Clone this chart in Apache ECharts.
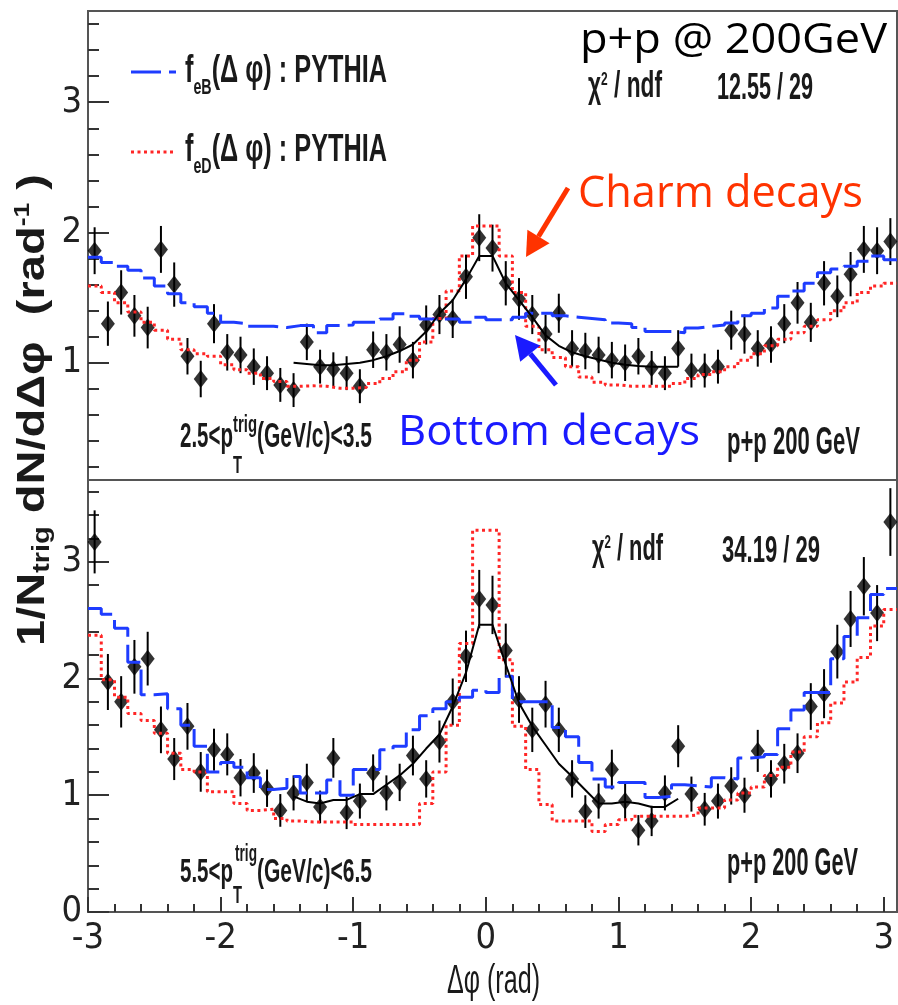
<!DOCTYPE html>
<html>
<head>
<meta charset="utf-8">
<script src="https://cdn.jsdelivr.net/npm/echarts@6.0.0/dist/echarts.min.js"></script>
<style>
html,body{margin:0;padding:0;background:#fff;}
#chart{width:898px;height:1005px;}
</style>
</head>
<body>
<div id="chart"></div>
<script>
// ---------------- data ----------------
const dphi = [-2.95,-2.85,-2.75,-2.65,-2.55,-2.45,-2.35,-2.25,-2.15,-2.05,
  -1.95,-1.85,-1.75,-1.65,-1.55,-1.45,-1.35,-1.25,-1.15,-1.05,
  -0.95,-0.85,-0.75,-0.65,-0.55,-0.45,-0.35,-0.25,-0.15,-0.05,
  0.05,0.15,0.25,0.35,0.45,0.55,0.65,0.75,0.85,0.95,
  1.05,1.15,1.25,1.35,1.45,1.55,1.65,1.75,1.85,1.95,
  2.05,2.15,2.25,2.35,2.45,2.55,2.65,2.75,2.85,2.95,3.05];

const xTickLabels = [-3,-2,-1,0,1,2,3];
const yTickLabelsLow = [1,2,3];
const yTickLabelsHigh = [0,1,2,3];

// panel 1: 2.5 < pT(trig) < 3.5 GeV/c
const dataLow = [1.86,1.30,1.54,1.36,1.27,1.87,1.60,1.05,0.875,1.30,
  1.08,1.06,0.97,0.92,0.83,0.79,1.16,0.97,0.95,0.92,
  0.82,1.10,1.08,1.14,1.02,1.29,1.37,1.34,1.66,1.96,
  1.88,1.61,1.49,1.37,1.22,1.38,1.11,1.09,1.06,1.02,
  1.00,1.05,0.96,0.92,1.11,0.94,0.94,0.97,1.25,1.22,
  1.11,1.14,1.30,1.46,1.31,1.61,1.51,1.68,1.87,1.86,1.93];
const errLow = [0.18,0.17,0.17,0.16,0.16,0.18,0.17,0.14,0.14,0.15,
  0.14,0.14,0.14,0.13,0.13,0.13,0.14,0.13,0.13,0.13,
  0.13,0.14,0.14,0.14,0.14,0.15,0.15,0.15,0.17,0.18,
  0.18,0.17,0.16,0.15,0.15,0.15,0.14,0.14,0.14,0.14,
  0.14,0.14,0.13,0.13,0.14,0.13,0.13,0.13,0.15,0.15,
  0.14,0.14,0.15,0.16,0.15,0.17,0.16,0.17,0.18,0.18,0.18];
const pythiaBLow = [1.81,1.77,1.74,1.71,1.65,1.59,1.53,1.46,1.43,1.38,
  1.31,1.30,1.28,1.28,1.27,1.285,1.285,1.23,1.285,1.29,
  1.31,1.31,1.336,1.377,1.356,1.336,1.336,1.336,1.31,1.35,
  1.33,1.33,1.35,1.38,1.38,1.36,1.35,1.34,1.33,1.305,
  1.30,1.27,1.24,1.24,1.23,1.267,1.28,1.29,1.306,1.36,
  1.38,1.42,1.51,1.55,1.61,1.69,1.72,1.74,1.78,1.82,1.79];
const pythiaDLow = [1.59,1.54,1.46,1.39,1.31,1.25,1.18,1.10,1.07,1.05,
  0.985,0.946,0.92,0.88,0.856,0.82,0.823,0.82,0.805,0.805,
  0.81,0.84,0.88,0.93,1.02,1.16,1.34,1.55,1.82,2.05,
  2.05,1.82,1.54,1.28,1.10,1.04,0.97,0.89,0.85,0.83,
  0.82,0.82,0.82,0.82,0.84,0.88,0.91,0.93,0.97,1.02,
  1.07,1.13,1.18,1.23,1.28,1.33,1.40,1.46,1.54,1.59,1.61];
const fitLow = [1.00,0.99,0.98,0.98,0.99,1.00,1.02,1.05,1.09,1.14,
  1.24,1.38,1.48,1.64,1.82,1.82,1.61,1.48,1.35,1.21,
  1.13,1.08,1.05,1.025,1.00,0.985,0.975,0.97,0.97,0.97];

// panel 2: 5.5 < pT(trig) < 6.5 GeV/c
const dataHigh = [3.17,1.97,1.80,2.10,2.17,1.56,1.31,1.59,1.20,1.39,
  1.35,1.15,1.19,1.06,0.87,1.02,1.11,0.90,1.32,0.85,
  0.95,1.19,1.02,1.11,1.34,1.14,1.46,1.80,2.19,2.68,
  2.63,2.24,1.82,1.56,1.78,1.56,1.14,0.86,0.95,1.22,
  0.95,0.70,0.78,1.02,1.42,1.01,0.88,0.95,1.08,1.00,
  1.38,1.14,1.27,1.36,1.76,1.87,2.23,2.51,2.79,2.56,3.34];
const errHigh = [0.27,0.24,0.22,0.23,0.23,0.20,0.18,0.20,0.17,0.18,
  0.18,0.16,0.17,0.16,0.14,0.15,0.16,0.14,0.17,0.14,
  0.15,0.16,0.15,0.16,0.17,0.16,0.18,0.20,0.22,0.25,
  0.25,0.23,0.20,0.19,0.20,0.19,0.16,0.14,0.15,0.17,
  0.15,0.13,0.13,0.15,0.18,0.15,0.14,0.15,0.16,0.15,
  0.18,0.16,0.17,0.17,0.20,0.21,0.23,0.24,0.25,0.24,0.29];
const pythiaBHigh = [2.60,2.55,2.43,2.14,1.86,1.87,1.74,1.60,1.42,1.20,
  1.28,1.24,1.15,1.05,1.06,1.16,1.02,1.02,1.13,1.00,
  1.22,1.22,1.39,1.42,1.56,1.68,1.74,1.80,1.84,1.90,
  1.88,2.02,1.80,1.80,1.80,1.58,1.50,1.28,1.14,1.07,
  1.11,1.11,0.98,0.99,1.09,1.08,1.07,1.15,1.14,1.32,
  1.33,1.35,1.57,1.73,1.88,1.88,2.17,2.36,2.52,2.72,2.77];
const pythiaDHigh = [2.37,1.99,1.84,1.70,1.64,1.53,1.36,1.22,1.20,1.03,
  1.03,0.93,0.87,0.88,0.80,0.78,0.77,0.77,0.77,0.77,
  0.75,0.75,0.75,0.75,0.75,0.93,1.20,1.60,2.30,3.27,
  3.27,2.16,1.59,1.22,0.92,0.78,0.78,0.78,0.69,0.75,
  0.79,0.82,0.82,0.82,0.82,0.83,0.89,0.89,0.96,1.02,
  1.07,1.17,1.24,1.37,1.50,1.62,1.79,1.97,2.18,2.45,2.59];
const fitHigh = [0.99,0.945,0.93,0.96,0.96,1.01,1.01,1.09,1.17,1.27,
  1.40,1.52,1.76,2.05,2.46,2.46,2.12,1.79,1.59,1.43,
  1.27,1.16,1.045,0.93,0.93,0.945,0.93,0.90,0.90,0.97];
const fitDphi = dphi.slice(15, 45);

// ---------------- helpers ----------------
const ROOTF = '"Liberation Sans", Arial, Helvetica, sans-serif';
const NARROW = '"Liberation Sans Narrow", "DejaVu Sans Condensed", "Liberation Sans", sans-serif';
const KEYF = '"Open Sans", "Noto Sans", sans-serif';
const C_B = '#1e3cff', C_D = '#ff2626';
const RW = 'bold';

const halfBin = (dphi[1] - dphi[0]) / 2;
function stepData(vals) {
  const d = dphi.map((c, i) => [+(c - halfBin).toFixed(4), vals[i]]);
  d.push([+(dphi[dphi.length - 1] + halfBin).toFixed(4), vals[vals.length - 1]]);
  return d;
}

function panelSeries(xi, yi, pts, err, fb, fd, fit) {
  return [
    { type: 'custom', xAxisIndex: xi, yAxisIndex: yi, silent: true, clip: true, z: 2,
      data: dphi.map((x, i) => [x, pts[i], err[i]]),
      renderItem: function (params, api) {
        const x = api.value(0), y = api.value(1), e = api.value(2);
        const a = api.coord([x, y - e]), b = api.coord([x, y + e]);
        return { type: 'line', shape: { x1: a[0], y1: a[1], x2: b[0], y2: b[1] },
                 style: { stroke: '#000', lineWidth: 2 } };
      } },
    { type: 'scatter', xAxisIndex: xi, yAxisIndex: yi, silent: true, z: 3,
      data: dphi.map((x, i) => [x, pts[i]]),
      symbol: 'diamond', symbolSize: [14, 18], itemStyle: { color: '#000' } },
    { type: 'line', xAxisIndex: xi, yAxisIndex: yi, silent: true, z: 4, step: 'end',
      data: stepData(fd), symbol: 'none',
      lineStyle: { color: C_D, width: 3, type: [3, 3.5] } },
    { type: 'line', xAxisIndex: xi, yAxisIndex: yi, silent: true, z: 4, step: 'end',
      data: stepData(fb), symbol: 'none',
      lineStyle: { color: C_B, width: 3, type: [30, 8] } },
    { type: 'line', xAxisIndex: xi, yAxisIndex: yi, silent: true, z: 5,
      data: fitDphi.map((x, i) => [x, fit[i]]), symbol: 'none',
      lineStyle: { color: '#000', width: 2 } }
  ];
}

const mctx = document.createElement('canvas').getContext('2d');
function fontStr(s) { return (s.w || RW) + ' ' + s.s + 'px ' + (s.f || ROOTF); }
function widthOf(segs) {
  let w = 0;
  for (const s of segs) { mctx.font = fontStr(s); w += mctx.measureText(s.t).width; }
  return w;
}
function txt(segs, x0, x1, y) {
  const rich = {}; let str = '';
  segs.forEach((s, i) => {
    const r = { fontSize: s.s, fontFamily: s.f || ROOTF, fontWeight: s.w || RW,
                fill: s.c || '#1a1a1a', lineHeight: s.lh || Math.round(s.s * 1.1),
                verticalAlign: s.v || 'middle' };
    if (s.pad) r.padding = s.pad;
    rich['s' + i] = r;
    str += '{s' + i + '|' + s.t + '}';
  });
  const sc = (x1 - x0) / widthOf(segs);
  return { type: 'text', x: x0, y: y, scaleX: sc, z: 100, silent: true,
           style: { text: str, rich: rich, align: 'left', verticalAlign: 'middle' } };
}

// ---------------- annotations ----------------
const graphics = [];
graphics.push(txt([{ t: 'p+p @ 200GeV', s: 42, f: KEYF, c: '#000', w: 'normal' }], 580, 887, 41));
graphics.push(txt([{ t: 'Charm decays', s: 44, f: KEYF, c: '#ff3300', w: 'normal' }], 578, 863, 194));
graphics.push(txt([{ t: 'Bottom decays', s: 42, f: KEYF, c: '#1a1aff', w: 'normal' }], 398, 700, 433));

// legend
graphics.push({ type: 'line', z: 100, silent: true, shape: { x1: 131, y1: 72, x2: 176, y2: 72 },
  style: { stroke: C_B, lineWidth: 3, lineDash: [30, 8] } });
graphics.push({ type: 'line', z: 100, silent: true, shape: { x1: 131, y1: 152, x2: 176, y2: 152 },
  style: { stroke: C_D, lineWidth: 3, lineDash: [3, 3.5] } });
graphics.push(txt([{ t: 'f', s: 39, lh: 56 }, { t: 'eB', s: 22, v: 'bottom', lh: 22 },
  { t: '(Δ φ) : PYTHIA', s: 39, lh: 56 }], 185, 387, 71));
graphics.push(txt([{ t: 'f', s: 39, lh: 56 }, { t: 'eD', s: 22, v: 'bottom', lh: 22 },
  { t: '(Δ φ) : PYTHIA', s: 39, lh: 56 }], 185, 387, 150));

// chi2 / ndf
function chi(x0, x1, y) {
  return txt([{ t: 'χ', s: 36, lh: 40 }, { t: '2', s: 19, v: 'top', lh: 19, pad: [3, 0, 0, 0] },
    { t: ' / ndf', s: 36, lh: 40 }], x0, x1, y);
}
graphics.push(chi(588, 662, 87));
graphics.push(txt([{ t: '12.55 / 29', s: 36 }], 717, 813, 89));
graphics.push(chi(592, 663, 550));
graphics.push(txt([{ t: '34.19 / 29', s: 36 }], 722, 820, 552));

// pT ranges
graphics.push(txt([{ t: '2.5<p', s: 35 }], 180, 233, 437));
graphics.push(txt([{ t: 'trig', s: 24 }], 233, 257, 425));
graphics.push(txt([{ t: 'T', s: 24 }], 233, 242, 466));
graphics.push(txt([{ t: '(GeV/c)<3.5', s: 35 }], 257, 372, 437));
graphics.push(txt([{ t: '5.5<p', s: 33 }], 180, 233, 873));
graphics.push(txt([{ t: 'trig', s: 23 }], 235, 257, 855));
graphics.push(txt([{ t: 'T', s: 23 }], 233, 242, 897));
graphics.push(txt([{ t: '(GeV/c)<6.5', s: 33 }], 257, 372, 873));

graphics.push(txt([{ t: 'p+p 200 GeV', s: 39 }], 727, 860, 443));
graphics.push(txt([{ t: 'p+p 200 GeV', s: 39 }], 727, 858, 864));

// axis titles
graphics.push(txt([{ t: 'Δφ (rad)', s: 41, w: 'normal' }], 447, 540, 982));
const yTitle = txt([{ t: '1/N', s: 39, w: 'bold', lh: 43 }, { t: 'trig', s: 24, w: 'bold', v: 'bottom', lh: 24 },
  { t: ' dN/dΔφ  (rad', s: 39, w: 'bold', lh: 43 }, { t: '-1', s: 22, w: 'bold', v: 'top', lh: 22 },
  { t: ' )', s: 39, w: 'bold', lh: 43 }], 0, 472, 0);
yTitle.x = 33; yTitle.y = 410; yTitle.rotation = Math.PI / 2; yTitle.style.align = 'center';
graphics.push(yTitle);

// arrows
graphics.push({ type: 'line', z: 100, silent: true, shape: { x1: 568, y1: 188, x2: 538.5, y2: 236.5 },
  style: { stroke: '#ff3300', lineWidth: 5 } });
graphics.push({ type: 'polygon', z: 100, silent: true,
  shape: { points: [[526, 257], [549.6, 243.3], [527.4, 229.7]] }, style: { fill: '#ff3300' } });
graphics.push({ type: 'line', z: 100, silent: true, shape: { x1: 556, y1: 385, x2: 530.2, y2: 353.6 },
  style: { stroke: '#1a1aff', lineWidth: 5 } });
graphics.push({ type: 'polygon', z: 100, silent: true,
  shape: { points: [[515, 335], [540.2, 345.4], [520.2, 361.8]] }, style: { fill: '#1a1aff' } });

// ---------------- chart ----------------
const tickStyle = { color: '#333', width: 2 };
const labelStyle = { fontFamily: NARROW, fontSize: 36, color: '#222' };

const option = {
  animation: false,
  backgroundColor: '#fff',
  grid: [
    { left: 88, top: 11, width: 809, height: 469, show: true, borderColor: '#555', borderWidth: 2 },
    { left: 88, top: 480, width: 809, height: 432, show: true, borderColor: '#555', borderWidth: 2 }
  ],
  xAxis: [
    { gridIndex: 0, type: 'value', min: -3, max: 3.1, interval: 1, show: false,
      axisLine: { show: false, onZero: false } },
    { gridIndex: 1, type: 'value', min: -3, max: 3.1, interval: 1, position: 'bottom',
      axisLine: { show: false, onZero: false }, splitLine: { show: false },
      axisTick: { show: true, inside: true, length: 15, customValues: xTickLabels, lineStyle: tickStyle },
      minorTick: { show: true, splitNumber: 5, length: 8, lineStyle: tickStyle },
      axisLabel: Object.assign({ customValues: xTickLabels, margin: 9 }, labelStyle) }
  ],
  yAxis: [
    { gridIndex: 0, type: 'value', min: 0.1, max: 3.7, minInterval: 1, maxInterval: 1, position: 'left',
      axisLine: { show: false, onZero: false }, splitLine: { show: false },
      axisTick: { show: true, inside: true, length: 21, customValues: yTickLabelsLow, lineStyle: tickStyle },
      minorTick: { show: true, splitNumber: 5, length: 11, lineStyle: tickStyle },
      axisLabel: Object.assign({ customValues: yTickLabelsLow, margin: 6, padding: [10, 0, 0, 0] }, labelStyle) },
    { gridIndex: 1, type: 'value', min: 0, max: 3.7, interval: 1, position: 'left',
      axisLine: { show: false, onZero: false }, splitLine: { show: false },
      axisTick: { show: true, inside: true, length: 21, customValues: yTickLabelsHigh, lineStyle: tickStyle },
      minorTick: { show: true, splitNumber: 5, length: 11, lineStyle: tickStyle },
      axisLabel: Object.assign({ customValues: yTickLabelsHigh, margin: 6, padding: [10, 0, 0, 0] }, labelStyle) }
  ],
  series: [].concat(
    panelSeries(0, 0, dataLow, errLow, pythiaBLow, pythiaDLow, fitLow),
    panelSeries(1, 1, dataHigh, errHigh, pythiaBHigh, pythiaDHigh, fitHigh)
  ),
  graphic: graphics
};

const chart = echarts.init(document.getElementById('chart'), null, { renderer: 'canvas' });
chart.setOption(option);
</script>
</body>
</html>
